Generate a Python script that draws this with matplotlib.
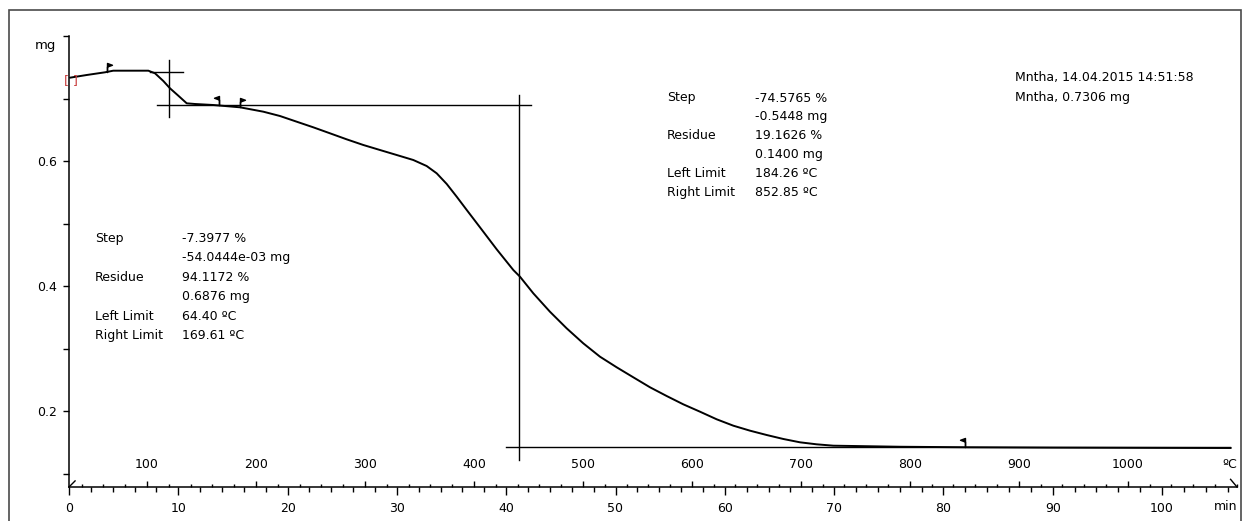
import matplotlib
matplotlib.use("Agg")
import matplotlib.pyplot as plt
from matplotlib.path import Path
from matplotlib.patches import Rectangle
from matplotlib.ticker import MultipleLocator, FixedLocator

plt.rcParams['font.family'] = ['DejaVu Sans']

# ---- data (time in min, mass in mg) ----
time_min = [0.09, 1.62, 3.29, 4.05, 7.26, 7.87, 8.63, 9.24, 10.0, 10.77, 11.53,
            13.2, 15.65, 17.78, 19.3, 20.83, 22.35, 23.88, 25.4, 26.93, 28.45,
            29.98, 31.5, 32.72, 33.64, 34.56, 35.47, 36.39, 37.6, 39.13, 40.65,
            41.26, 42.48, 44.0, 45.53, 47.05, 48.58, 50.11, 51.63, 53.16, 54.68,
            56.2, 57.73, 59.26, 60.78, 62.31, 63.83, 65.36, 66.88, 68.4, 69.93,
            71.76, 76.0, 82.0, 90.0, 100.0, 106.3]
mass_mg = [0.7333, 0.7376, 0.7419, 0.7445, 0.7445, 0.7403, 0.7280, 0.7163, 0.7045,
           0.6923, 0.6912, 0.6896, 0.6859, 0.6789, 0.6720, 0.6629, 0.6539, 0.6443,
           0.6347, 0.6256, 0.6176, 0.6096, 0.6016, 0.5920, 0.5803, 0.5632, 0.5429,
           0.5216, 0.4939, 0.4587, 0.4256, 0.4149, 0.3883, 0.3589, 0.3323, 0.3083,
           0.2869, 0.2699, 0.2539, 0.2379, 0.2240, 0.2107, 0.1989, 0.1867, 0.1765,
           0.1685, 0.1616, 0.1552, 0.1499, 0.1467, 0.1445, 0.1440, 0.1428, 0.1420,
           0.1414, 0.1410, 0.1408]

# temperature program (furnace): T = T0 + rate * t
T0 = 28.4
rate = 10.03

# step evaluation construction lines
step1_upper_t = [7.41, 10.43]
step1_upper_m = 0.7429
step_mid_t = [8.05, 42.27]
step_mid_m = 0.6896
step1_vert_t = 9.18
step1_vert_m = [0.6701, 0.7616]
step2_vert_t = 41.17
step2_vert_m = [0.1216, 0.7056]
step2_lower_t = [39.98, 106.2]
step2_lower_m = 0.1419

# limit flags
flag_t = [3.48, 13.7, 15.65, 82.0]
flag_m = [0.7420, 0.6896, 0.6870, 0.1419]
flag_dir = ['r', 'l', 'r', 'l']

step1_labels = ["Step", "", "Residue", "", "Left Limit", "Right Limit"]
step1_values = ["-7.3977 %", "-54.0444e-03 mg", "94.1172 %", "0.6876 mg",
                "64.40 \u00baC", "169.61 \u00baC"]
step2_labels = ["Step", "", "Residue", "", "Left Limit", "Right Limit"]
step2_values = ["-74.5765 %", "-0.5448 mg", "19.1626 %", "0.1400 mg",
                "184.26 \u00baC", "852.85 \u00baC"]
header_lines = ["Mntha, 14.04.2015 14:51:58", "Mntha, 0.7306 mg"]

y_ticks = [0.1, 0.2, 0.3, 0.4, 0.5, 0.6, 0.7, 0.8]
y_labels = ["", "0.2", "", "0.4", "", "0.6", "", ""]
time_major = [0, 10, 20, 30, 40, 50, 60, 70, 80, 90, 100]
temp_major = [100, 200, 300, 400, 500, 600, 700, 800, 900, 1000]

# ---- figure ----
W, H = 1242, 521
fig = plt.figure(figsize=(W / 100, H / 100), dpi=100)
PX = 72 / 100  # points per pixel


def fx(px):
    return px / W


def fy(py):
    return 1 - py / H


# outer frame
fig.patches.append(Rectangle((fx(9), fy(540)), fx(1241) - fx(9), fy(10) - fy(540),
                             transform=fig.transFigure, fill=False,
                             edgecolor='#4a4a4a', linewidth=1.2))

ax_l, ax_r, ax_t, ax_b = 69, 1237, 36, 487
ax = fig.add_axes([fx(ax_l), fy(ax_b), fx(ax_r) - fx(ax_l), fy(ax_t) - fy(ax_b)])
ax.set_xlim(0, (ax_r - ax_l) / 10.93)
ax.set_ylim(0.8 - (ax_b - ax_t) / 625.0, 0.8)

for s in ['top', 'right']:
    ax.spines[s].set_visible(False)
for s in ['left', 'bottom']:
    ax.spines[s].set_linewidth(1.1)
    ax.spines[s].set_color('black')

# curve
ax.plot(time_min, mass_mg, color='black', linewidth=1.4,
        solid_joinstyle='round', solid_capstyle='round')

# construction lines
lw = 1.0
ax.plot(step1_upper_t, [step1_upper_m] * 2, color='black', lw=lw)
ax.plot(step_mid_t, [step_mid_m] * 2, color='black', lw=lw)
ax.plot([step1_vert_t] * 2, step1_vert_m, color='black', lw=lw)
ax.plot([step2_vert_t] * 2, step2_vert_m, color='black', lw=lw)
ax.plot(step2_lower_t, [step2_lower_m] * 2, color='black', lw=lw)

# flags
codes = [Path.MOVETO, Path.LINETO, Path.LINETO, Path.LINETO, Path.CLOSEPOLY]
flag_r = Path([(0, 0), (0, 1), (0.55, 0.8), (0, 0.6), (0, 0)], codes)
flag_l = Path([(0, 0), (0, 1), (-0.55, 0.8), (0, 0.6), (0, 0)], codes)
for t, m, d in zip(flag_t, flag_m, flag_dir):
    ax.plot([t], [m], marker=flag_r if d == 'r' else flag_l, markersize=13,
            color='black', markeredgewidth=1.0, linestyle='none')

# red start bracket
ax.text(0.15, 0.7290, "[ ]", color='#c83c3c', fontsize=9, ha='center', va='center')

# y axis
ax.yaxis.set_major_locator(FixedLocator(y_ticks))
ax.set_yticklabels(y_labels)
ax.tick_params(axis='y', direction='out', length=6 * PX, width=1.0, pad=6 * PX,
               labelsize=9, colors='black')

# time axis (bottom)
ax.xaxis.set_major_locator(FixedLocator(time_major))
ax.xaxis.set_minor_locator(MultipleLocator(2))
ax.set_xticklabels([str(v) for v in time_major])
ax.tick_params(axis='x', which='major', direction='out', length=8 * PX, width=1.0,
               pad=7 * PX, labelsize=9)
ax.tick_params(axis='x', which='minor', direction='out', length=5 * PX, width=1.0)

# temperature axis (ticks above the time axis)
sec = ax.secondary_xaxis(0.0, functions=(lambda t: T0 + rate * t,
                                         lambda T: (T - T0) / rate))
sec.set_alignment('top')
sec.spines['top'].set_visible(False)
sec.spines['bottom'].set_visible(False)
sec.xaxis.set_major_locator(FixedLocator(temp_major))
sec.xaxis.set_minor_locator(MultipleLocator(20))
sec.set_xticklabels([str(v) for v in temp_major])
sec.tick_params(axis='x', which='major', direction='out', length=6 * PX, width=1.0,
                pad=10 * PX, labelsize=9)
sec.tick_params(axis='x', which='minor', direction='out', length=3 * PX, width=1.0)

# axis end marks
ax.plot([0, 0.0052], [0, 0.0135], transform=ax.transAxes, color='black', lw=1.0,
        clip_on=False)
ax.plot([0.9945, 1.0], [0.017, 0.0], transform=ax.transAxes, color='black', lw=1.0,
        clip_on=False)

# unit labels
fig.text(fx(56), fy(45), "mg", ha='right', va='center', fontsize=9.5)
fig.text(fx(1237), fy(507), "min", ha='right', va='center', fontsize=9)
fig.text(fx(1237), fy(465), "\u00baC", ha='right', va='center', fontsize=9)


# annotation blocks
def block(x_lab, x_val, y0, labels, values, dy=19.4):
    for i, (lab, val) in enumerate(zip(labels, values)):
        yy = y0 + i * dy
        if lab:
            fig.text(fx(x_lab), fy(yy), lab, ha='left', va='center', fontsize=9)
        fig.text(fx(x_val), fy(yy), val, ha='left', va='center', fontsize=9)


block(95, 182, 238.5, step1_labels, step1_values)
block(667, 755, 98, step2_labels, step2_values, dy=18.9)

for i, line in enumerate(header_lines):
    fig.text(fx(1015), fy(77 + i * 20), line, ha='left', va='center', fontsize=9)

fig.savefig("out.png", dpi=100)
